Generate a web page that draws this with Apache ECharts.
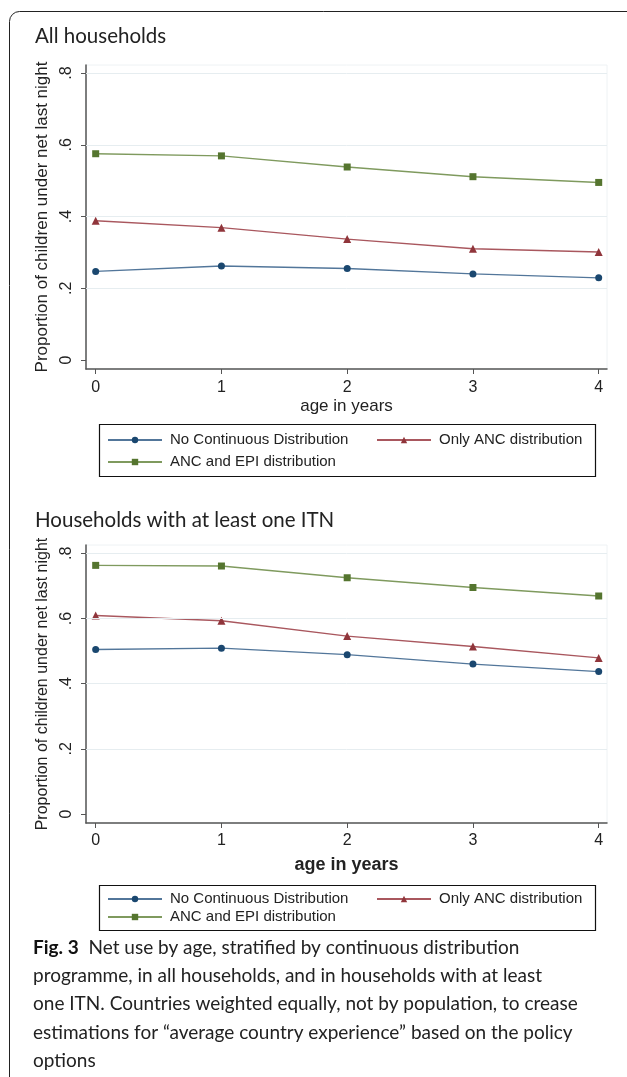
<!DOCTYPE html>
<html>
<head>
<meta charset="utf-8">
<script src="https://cdn.jsdelivr.net/npm/echarts@6/dist/echarts.min.js"></script>
<style>
html,body{margin:0;padding:0;background:#fff;}
#chart{width:627px;height:1077px;}
</style>
</head>
<body>
<div id="chart"></div>
<script>
// ---- data ----
var ages = [0, 1, 2, 3, 4];
var xTickLabels = ['0', '1', '2', '3', '4'];
var yTicks = [0, 0.2, 0.4, 0.6, 0.8];
var yTickLabels = ['0', '.2', '.4', '.6', '.8'];
var gridValues = [0.2, 0.4, 0.6, 0.8];
var seriesNames = ['No Continuous Distribution', 'Only ANC distribution', 'ANC and EPI distribution'];
var panelTitles = ['All households', 'Households with at least one ITN'];
var yAxisTitle = 'Proportion of children under net last night';
var xAxisTitle = 'age in years';
var allNoCD = [0.247, 0.262, 0.255, 0.240, 0.229];
var allANC = [0.388, 0.369, 0.337, 0.310, 0.301];
var allEPI = [0.575, 0.569, 0.538, 0.511, 0.495];
var itnNoCD = [0.505, 0.509, 0.489, 0.460, 0.437];
var itnANC = [0.609, 0.593, 0.546, 0.514, 0.479];
var itnEPI = [0.763, 0.761, 0.725, 0.695, 0.669];
var captionBold = 'Fig. 3';
var captionLines = [
  'Net use by age, stratified by continuous distribution',
  'programme, in all households, and in households with at least',
  'one ITN. Countries weighted equally, not by population, to crease',
  'estimations for \u201caverage country experience\u201d based on the policy',
  'options'
];

// ---- styles ----
var markerColors = ['#1a476f', '#90353b', '#55752f'];
var lineColors = ['#52769a', '#a9575e', '#7f9a5e'];
var symbols = ['circle', 'triangle', 'rect'];
var symbolSizes = [7, 8, 7];
var axisColor = '#555';
var textColor = '#222';
var capFont = 'Lato, "Open Sans", sans-serif';
var arial = 'Arial, "Liberation Sans", sans-serif';

function pairs(vals) { return ages.map(function (a, i) { return [a, vals[i]]; }); }

function mkSeries(name, idx, vals, gi) {
  return {
    type: 'line', name: name, xAxisIndex: gi, yAxisIndex: gi,
    data: pairs(vals), symbol: symbols[idx], symbolSize: symbolSizes[idx],
    itemStyle: { color: markerColors[idx] },
    lineStyle: { color: lineColors[idx], width: 1.4 },
    z: 3, animation: false
  };
}
function gridSeries(gi) {
  return {
    type: 'line', name: 'gridlines' + gi, xAxisIndex: gi, yAxisIndex: gi, data: [],
    z: 1, silent: true, animation: false,
    markLine: { silent: true, symbol: 'none', animation: false, label: { show: false },
      lineStyle: { color: '#e6edf0', type: 'solid', width: 1 },
      data: gridValues.map(function (v) { return { yAxis: v }; }) }
  };
}
function xAx(gi, nameGap, nameStyle, labelMargin) {
  return {
    type: 'value', gridIndex: gi, min: -0.077, max: 4.066,
    name: xAxisTitle, nameLocation: 'middle', nameGap: nameGap, nameTextStyle: nameStyle,
    axisLine: { show: true, onZero: false, lineStyle: { color: axisColor, width: 1.5 } },
    axisTick: { show: true, length: 5, customValues: ages, lineStyle: { color: axisColor } },
    axisLabel: { customValues: ages, margin: labelMargin, color: textColor, fontFamily: arial, fontSize: 16,
      formatter: function (v) { var i = ages.indexOf(Math.round(v)); return i >= 0 ? xTickLabels[i] : ''; } },
    splitLine: { show: false }
  };
}
function yAx(gi, min, max, nameSize) {
  return {
    type: 'value', gridIndex: gi, min: min, max: max,
    name: yAxisTitle, nameLocation: 'middle', nameGap: 35,
    nameTextStyle: { color: textColor, fontFamily: arial, fontSize: nameSize },
    axisLine: { show: true, onZero: false, lineStyle: { color: axisColor, width: 1.5 } },
    axisTick: { show: true, length: 5, customValues: yTicks, lineStyle: { color: axisColor } },
    axisLabel: { customValues: yTicks, rotate: 90, margin: 11, color: textColor, fontFamily: arial, fontSize: 16,
      formatter: function (v) { var i = yTicks.indexOf(Math.round(v * 10) / 10); return i >= 0 ? yTickLabels[i] : ''; } },
    splitLine: { show: false }
  };
}
var legendText = { color: textColor, fontFamily: arial, fontSize: 15, lineHeight: 16, padding: [0, 0, 0, 3] };
function legendBlock(names, left, top, gap) {
  return { orient: 'vertical', left: left, top: top, itemWidth: 54, itemHeight: 8, itemGap: gap, padding: 0,
    data: names, textStyle: legendText, selectedMode: false };
}
function capText(x, y, txt, size) {
  return { type: 'text', silent: true, x: x, y: y, style: { text: txt, fill: '#222', font: (size || 19) + 'px ' + capFont, verticalAlign: 'middle' } };
}

var chart = echarts.init(document.getElementById('chart'), null, { renderer: 'canvas' });
chart.setOption({
  backgroundColor: '#ffffff',
  animation: false,
  grid: [
    { left: 86, right: 20, top: 65, bottom: 708, show: true, borderColor: '#eef2f4', borderWidth: 1, backgroundColor: 'transparent' },
    { left: 86, right: 20, top: 545, bottom: 254, show: true, borderColor: '#eef2f4', borderWidth: 1, backgroundColor: 'transparent' }
  ],
  xAxis: [
    xAx(0, 29, { color: textColor, fontFamily: arial, fontSize: 17 }, 11),
    xAx(1, 33, { color: textColor, fontFamily: arial, fontSize: 18, fontWeight: 'bold' }, 10)
  ],
  yAxis: [
    yAx(0, -0.025, 0.8223, 17),
    yAx(1, -0.0276, 0.8255, 16)
  ],
  legend: [
    legendBlock([seriesNames[0], seriesNames[2]], 107, 432, 6),
    legendBlock([seriesNames[1]], 376, 432, 6),
    legendBlock([seriesNames[0], seriesNames[2]], 107, 891, 2),
    legendBlock([seriesNames[1]], 376, 891, 2)
  ],
  series: [
    gridSeries(0), gridSeries(1),
    mkSeries(seriesNames[0], 0, allNoCD, 0),
    mkSeries(seriesNames[1], 1, allANC, 0),
    mkSeries(seriesNames[2], 2, allEPI, 0),
    mkSeries(seriesNames[0], 0, itnNoCD, 1),
    mkSeries(seriesNames[1], 1, itnANC, 1),
    mkSeries(seriesNames[2], 2, itnEPI, 1)
  ],
  graphic: [
    { type: 'rect', silent: true, shape: { x: 9.5, y: 11.5, width: 640, height: 1100, r: [10, 0, 0, 0] },
      style: { fill: null, stroke: '#222', lineWidth: 1 } },
    { type: 'rect', silent: true, shape: { x: 99.5, y: 424.5, width: 496, height: 52 }, style: { fill: null, stroke: '#111', lineWidth: 1.2 } },
    { type: 'rect', silent: true, shape: { x: 99.5, y: 885.5, width: 496, height: 45 }, style: { fill: null, stroke: '#111', lineWidth: 1.2 } },
    capText(35, 36, panelTitles[0], 20.5),
    capText(35, 520, panelTitles[1], 20.5),
    { type: 'text', silent: true, x: 33, y: 948, style: { text: '{b|' + captionBold + '}  ' + captionLines[0], fill: '#222', font: '19px ' + capFont, verticalAlign: 'middle',
        rich: { b: { fontWeight: 'bold', fontSize: 19, fontFamily: capFont, fill: '#111' } } } },
    capText(33, 976, captionLines[1]),
    capText(33, 1004, captionLines[2]),
    capText(33, 1033, captionLines[3]),
    capText(33, 1061, captionLines[4])
  ]
});
</script>
</body>
</html>
